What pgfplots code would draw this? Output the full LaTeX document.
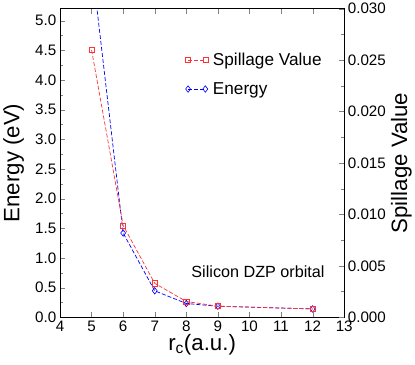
\documentclass[border=0pt]{standalone}
\usepackage{fontspec}
\setmainfont{Liberation Sans}
\usepackage{pgfplots}
\pgfplotsset{compat=1.18}
\begin{document}
\begin{tikzpicture}
\pgfplotsset{
  every axis/.append style={
    scale only axis, width=281pt, height=305pt,
    xmin=4, xmax=13,
    tick label style={font=\fontsize{15}{15}\selectfont},
    label style={font=\fontsize{22}{22}\selectfont},
    /pgf/number format/assume math mode=true,
    tick align=inside, line width=0.6pt,
    major tick length=5pt, minor tick length=3pt,
  },
  redstyle/.style={red!80!white, dash pattern=on 4pt off 2pt, line width=0.7pt,
    mark=square, mark size=2.5pt, mark options={solid, line width=0.6pt}},
  bluestyle/.style={blue, dash pattern=on 4pt off 2pt, line width=0.7pt,
    mark=diamond, mark size=3.2pt, mark options={solid, line width=0.6pt}},
}
\begin{axis}[
  ymin=0, ymax=5.2,
  xtick={4,...,13}, xtick pos=both,
  ytick={0,0.5,...,5.0}, ytick pos=left,
  minor y tick num=1,
  yticklabel style={/pgf/number format/.cd, fixed, fixed zerofill, precision=1},
  xlabel={r\textsubscript{c}(a.u.)},
  ylabel={Energy (eV)},
  xlabel style={yshift=4pt},
  ylabel style={yshift=4pt},
  clip=true,
]
\addplot[bluestyle] coordinates {(5,5.98) (6,1.42) (7,0.446) (8,0.232) (9,0.186) (12,0.14)};
\node[font=\fontsize{16}{16}\selectfont] at (axis cs:10.27,0.76) {Silicon DZP orbital};
\end{axis}
\begin{axis}[
  ymin=0, ymax=0.030,
  axis x line=none, axis y line*=right,
  ytick={0,0.005,...,0.030}, ytick pos=right,
  minor y tick num=1,
  yticklabel style={/pgf/number format/.cd, fixed, fixed zerofill, precision=3},
  scaled y ticks=false,
  ylabel={Spillage Value},
  ylabel style={yshift=2pt},
  legend style={draw=none, fill=none, at={(0.43,0.87)}, anchor=north west,
    font=\fontsize{17}{17}\selectfont, row sep=11pt,
    /tikz/every odd column/.append style={column sep=3pt}},
  legend cell align=left,
  legend image code/.code={\draw[mark repeat=2, mark phase=1, #1] plot coordinates {(0cm,0cm) (0.3cm,0cm) (0.6cm,0cm)};},
]
\addplot[redstyle] coordinates {(5,0.0260) (6,0.00893) (7,0.0033) (8,0.00153) (9,0.00108) (12,0.00081)};
\addlegendentry{Spillage Value}
\addlegendimage{bluestyle}
\addlegendentry{Energy}
\end{axis}
\path ([yshift=-6pt]current bounding box.south);
\end{tikzpicture}
\end{document}
